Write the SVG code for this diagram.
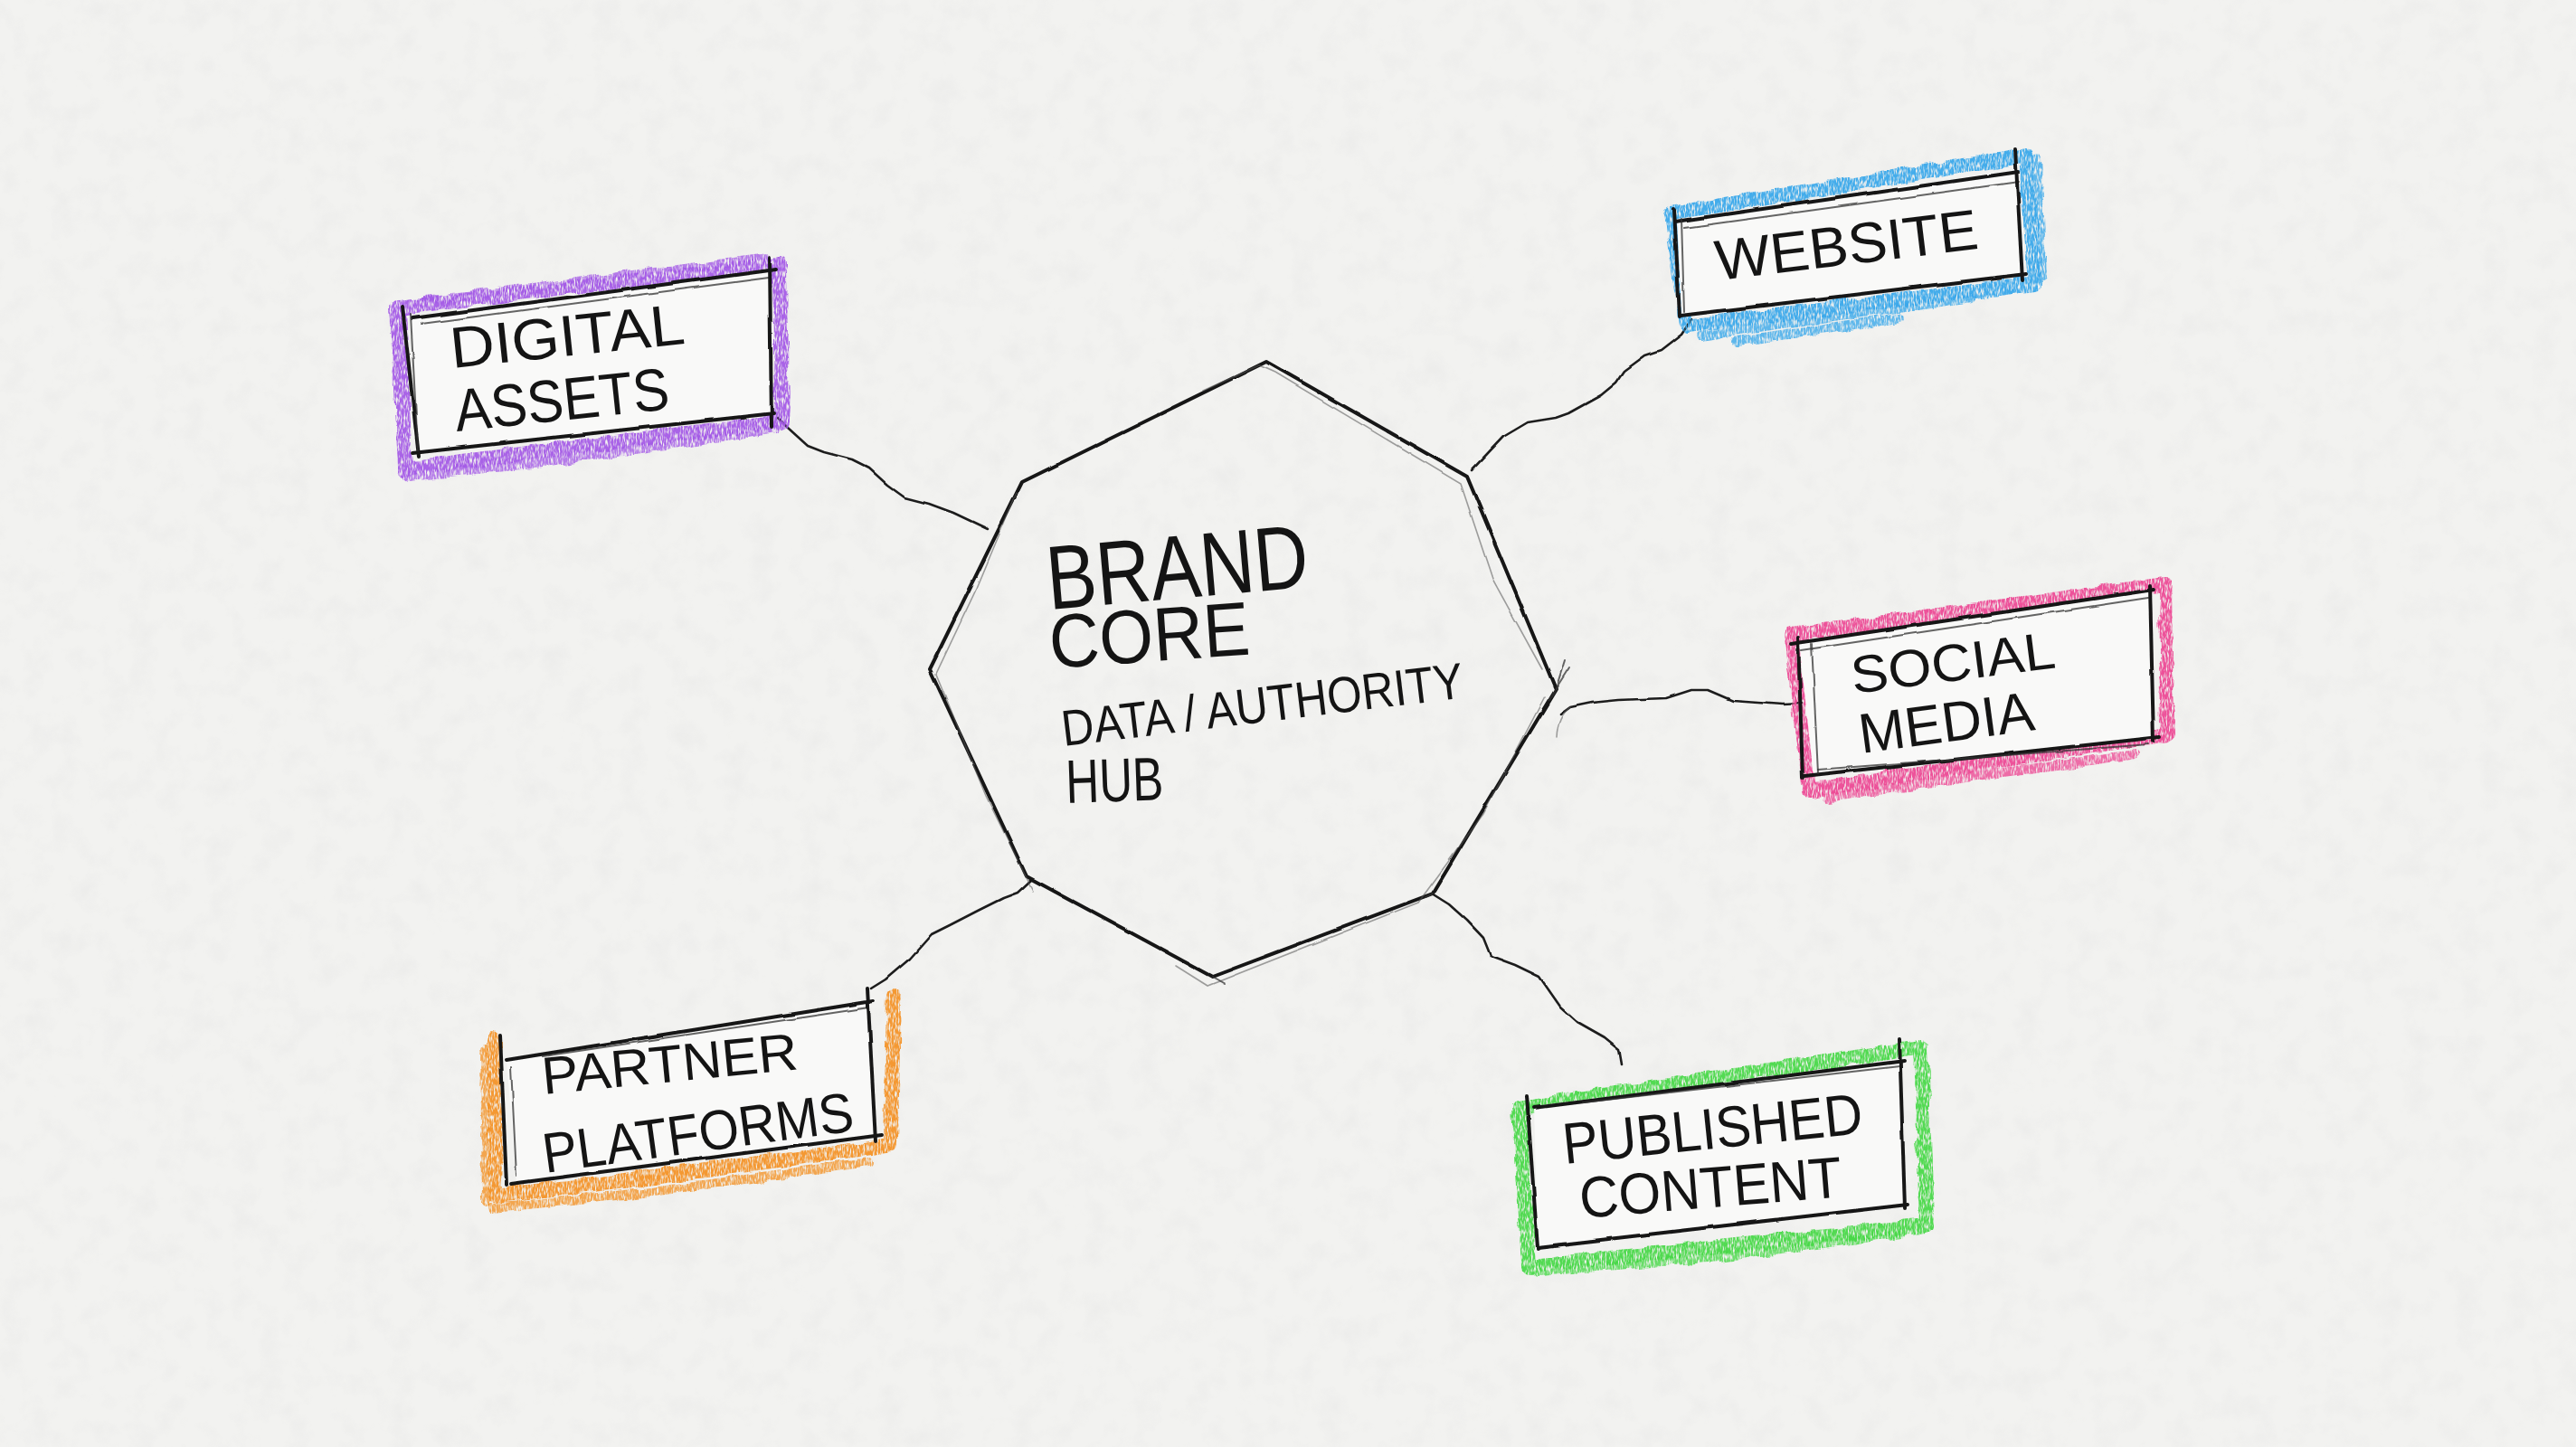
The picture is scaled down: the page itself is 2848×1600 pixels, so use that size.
<svg xmlns="http://www.w3.org/2000/svg" width="2848" height="1600" viewBox="0 0 2848 1600">
<defs>
<style>
.t{font-family:"Liberation Sans",Arial,sans-serif;fill:#141414;}
.ink{fill:none;stroke:#161616;stroke-width:4;stroke-linecap:round;stroke-linejoin:round;}
.ink2{fill:none;stroke:#333;stroke-width:2;stroke-linecap:round;opacity:0.75;}
.faint{fill:none;stroke:#555;stroke-width:1.6;stroke-linecap:round;opacity:0.55;}
.con{fill:none;stroke:#1e1e1e;stroke-width:2.6;stroke-linecap:round;stroke-linejoin:round;}
.hl{fill:none;stroke-width:16;stroke-linecap:round;stroke-linejoin:round;opacity:0.95;}
.hl2{fill:none;stroke-width:10;stroke-linecap:round;stroke-linejoin:round;opacity:0.8;}
.inner{fill:#f9f9f8;stroke:none;}
.purple{stroke:#a45be6;}
.blue{stroke:#3aa8ea;}
.pink{stroke:#ec4a95;}
.green{stroke:#48d848;}
.orange{stroke:#f39228;}
</style>
<filter id="paper" x="0" y="0" width="100%" height="100%">
<feTurbulence type="fractalNoise" baseFrequency="0.035" numOctaves="4" seed="7" result="n"/>
<feColorMatrix in="n" type="matrix" values="0 0 0 0 0.82  0 0 0 0 0.82  0 0 0 0 0.81  0 0 0 -2.2 1.2" result="g"/>
<feComposite in="g" in2="SourceGraphic" operator="in"/>
</filter>
<filter id="crayon" x="-10%" y="-10%" width="120%" height="120%">
<feTurbulence type="fractalNoise" baseFrequency="0.05" numOctaves="2" seed="3" result="d"/>
<feDisplacementMap in="SourceGraphic" in2="d" scale="9" xChannelSelector="R" yChannelSelector="G" result="disp"/>
<feTurbulence type="fractalNoise" baseFrequency="0.6 0.15" numOctaves="2" seed="11" result="g"/>
<feColorMatrix in="g" type="matrix" values="0 0 0 0 0  0 0 0 0 0  0 0 0 0 0  0 0 0 3 -0.7" result="ga"/>
<feComposite in="disp" in2="ga" operator="in"/>
</filter>
<filter id="pencil" x="-5%" y="-5%" width="110%" height="110%">
<feTurbulence type="fractalNoise" baseFrequency="0.03" numOctaves="2" seed="5" result="d"/>
<feDisplacementMap in="SourceGraphic" in2="d" scale="3" xChannelSelector="R" yChannelSelector="G"/>
</filter>
</defs>

<rect width="2848" height="1600" fill="#f2f2f0"/>
<rect width="2848" height="1600" fill="#ffffff" filter="url(#paper)" opacity="0.6"/>

<g id="connectors" filter="url(#pencil)">
<path class="con" d="M860,462 L871,473 L893,493 L911,500 L942,508 L960,517 L982,537 L1000,550 L1027,557 L1054,567 L1092,585"/>
<path class="con" d="M1870,353 L1859,370 L1837,387 L1819,393 L1796,410 L1787,423 L1770,437 L1734,457 L1720,462 L1689,467 L1662,483 L1627,520"/>
<path class="con" d="M1992,778 L1971,779 L1916,775 L1888,763 L1870,763 L1842,772 L1815,773 L1790,774 L1760,777 L1736,782 L1725,790"/>
<path class="faint" d="M1736,782 Q1722,792 1721,815"/>
<path class="con" d="M1583,988 L1602,1000 L1621,1017 L1640,1037 L1648,1057 L1675,1067 L1702,1080 L1725,1113 L1744,1130 L1774,1147 L1790,1160 L1793,1177"/>
<path class="con" d="M963,1093 L979,1083 L1006,1060 L1030,1033 L1050,1023 L1081,1007 L1109,993 L1125,987 L1140,973"/>
</g>

<g id="node-brand-core">
<g filter="url(#pencil)">
<polygon class="ink" points="1400,400 1622,527 1720,762 1584,988 1340,1080 1135,969 1028,740 1130,533"/>
<polyline class="faint" points="1330,432 1392,404 1410,412 1615,535 1650,640 1705,740"/>
<polyline class="faint" points="1124,545 1080,650 1035,745 1090,880 1142,985"/>
<polyline class="faint" points="1300,1068 1335,1090 1568,998 1640,900 1708,770"/>
<line class="ink2" x1="1720" y1="762" x2="1730" y2="730"/>
<line class="ink2" x1="1712" y1="774" x2="1735" y2="738"/>
<line class="ink2" x1="1340" y1="1080" x2="1354" y2="1088"/>
<line class="ink2" x1="1584" y1="988" x2="1576" y2="992"/>
</g>
<text class="t" x="1160" y="674" font-size="100" textLength="290" lengthAdjust="spacingAndGlyphs" transform="rotate(-5 1160 674)">BRAND</text>
<text class="t" x="1162" y="739" font-size="84" textLength="222" lengthAdjust="spacingAndGlyphs" transform="rotate(-4 1162 739)">CORE</text>
<text class="t" x="1176" y="825" font-size="56" textLength="447" lengthAdjust="spacingAndGlyphs" transform="rotate(-6.9 1176 825)">DATA / AUTHORITY</text>
<text class="t" x="1179" y="888" font-size="68" textLength="108" lengthAdjust="spacingAndGlyphs" transform="rotate(-2 1179 888)">HUB</text>
</g>

<g id="node-digital-assets">
<g filter="url(#crayon)">
<polygon class="hl purple" points="440,340 862,292 864,466 448,518"/>
<path class="hl2 purple" d="M452,526 L600,512 L858,474"/>
<path class="hl2 purple" d="M470,333 L850,285"/>
</g>
<polygon class="inner" points="453,352 851,300 853,458 465,500"/>
<g filter="url(#pencil)">
<line class="ink" x1="456" y1="352" x2="858" y2="298"/>
<line class="ink2" x1="466" y1="358" x2="850" y2="307"/>
<line class="ink" x1="851" y1="285" x2="853" y2="472"/>
<line class="ink" x1="456" y1="501" x2="856" y2="457"/>
<line class="ink" x1="445" y1="340" x2="463" y2="505"/>
<line class="ink2" x1="454" y1="348" x2="462" y2="498"/>
</g>
<text class="t" x="500" y="407" font-size="64" textLength="260" lengthAdjust="spacingAndGlyphs" transform="rotate(-6 500 407)">DIGITAL</text>
<text class="t" x="505" y="477" font-size="66" textLength="238" lengthAdjust="spacingAndGlyphs" transform="rotate(-6 505 477)">ASSETS</text>
</g>

<g id="node-website">
<g filter="url(#crayon)">
<polygon class="hl blue" points="1848,236 2240,172 2250,314 1864,360"/>
<path class="hl2 blue" d="M1880,372 L2020,352 L2180,330"/>
<path class="hl2 blue" d="M1920,378 L2100,352"/>
<path class="hl2 blue" d="M2252,175 L2258,305"/>
</g>
<polygon class="inner" points="1854,242 2229,188 2236,305 1859,348"/>
<g filter="url(#pencil)">
<line class="ink" x1="1852" y1="245" x2="2232" y2="190"/>
<line class="ink2" x1="1862" y1="252" x2="2232" y2="201"/>
<line class="ink" x1="2228" y1="165" x2="2236" y2="310"/>
<line class="ink" x1="1858" y1="349" x2="2240" y2="303"/>
<line class="ink" x1="1851" y1="232" x2="1857" y2="350"/>
<line class="ink2" x1="1859" y1="242" x2="1862" y2="345"/>
</g>
<text class="t" x="1899" y="310" font-size="63" textLength="292" lengthAdjust="spacingAndGlyphs" transform="rotate(-6.9 1899 310)">WEBSITE</text>
</g>

<g id="node-social-media">
<g filter="url(#crayon)">
<polygon class="hl pink" points="1980,702 2394,646 2396,812 2000,874"/>
<path class="hl2 pink" d="M2020,882 L2200,856 L2360,834"/>
</g>
<polygon class="inner" points="1989,710 2377,653 2380,817 2005,858"/>
<g filter="url(#pencil)">
<line class="ink" x1="1980" y1="712" x2="2381" y2="652"/>
<line class="ink2" x1="1992" y1="719" x2="2375" y2="661"/>
<line class="ink" x1="2377" y1="648" x2="2381" y2="820"/>
<line class="ink" x1="1995" y1="858" x2="2388" y2="815"/>
<line class="ink2" x1="2010" y1="851" x2="2376" y2="823"/>
<line class="ink" x1="1988" y1="705" x2="1993" y2="860"/>
<line class="ink2" x1="2003" y1="712" x2="2010" y2="855"/>
</g>
<text class="t" x="2049" y="767" font-size="58" textLength="227" lengthAdjust="spacingAndGlyphs" transform="rotate(-7.3 2049 767)">SOCIAL</text>
<text class="t" x="2058" y="833" font-size="62" textLength="195" lengthAdjust="spacingAndGlyphs" transform="rotate(-7.7 2058 833)">MEDIA</text>
</g>

<g id="node-published-content">
<g filter="url(#crayon)">
<polygon class="hl green" points="1680,1225 2124,1158 2130,1356 1690,1400"/>
<path class="hl2 green" d="M1700,1406 L1900,1390 L2100,1364"/>
</g>
<polygon class="inner" points="1696,1223 2102,1173 2105,1333 1700,1378"/>
<g filter="url(#pencil)">
<line class="ink" x1="1696" y1="1225" x2="2106" y2="1173"/>
<line class="ink2" x1="1750" y1="1219" x2="2100" y2="1179"/>
<line class="ink" x1="1688" y1="1212" x2="1700" y2="1380"/>
<line class="ink" x1="2100" y1="1150" x2="2106" y2="1336"/>
<line class="ink" x1="1700" y1="1379" x2="2109" y2="1332"/>
</g>
<text class="t" x="1730" y="1287" font-size="64" textLength="333" lengthAdjust="spacingAndGlyphs" transform="rotate(-5.9 1730 1287)">PUBLISHED</text>
<text class="t" x="1748" y="1347" font-size="64" textLength="291" lengthAdjust="spacingAndGlyphs" transform="rotate(-4.7 1748 1347)">CONTENT</text>
</g>

<g id="node-partner-platforms">
<g filter="url(#crayon)">
<path class="hl orange" d="M546,1150 L548,1322 L700,1305 L985,1266 L988,1100"/>
<path class="hl2 orange" d="M545,1336 L720,1318 L960,1285"/>
<path class="hl2 orange" d="M536,1160 L538,1330"/>
</g>
<polygon class="inner" points="560,1170 961,1107 969,1257 571,1308"/>
<g filter="url(#pencil)">
<line class="ink" x1="560" y1="1172" x2="965" y2="1107"/>
<line class="ink2" x1="600" y1="1168" x2="961" y2="1114"/>
<line class="ink" x1="553" y1="1145" x2="560" y2="1310"/>
<line class="ink2" x1="565" y1="1180" x2="571" y2="1300"/>
<line class="ink" x1="959" y1="1093" x2="968" y2="1262"/>
<line class="ink" x1="565" y1="1309" x2="975" y2="1255"/>
</g>
<text class="t" x="601" y="1210" font-size="58" textLength="284" lengthAdjust="spacingAndGlyphs" transform="rotate(-5.6 601 1210)">PARTNER</text>
<text class="t" x="603" y="1297" font-size="62" textLength="346" lengthAdjust="spacingAndGlyphs" transform="rotate(-7.8 603 1297)">PLATFORMS</text>
</g>
</svg>
